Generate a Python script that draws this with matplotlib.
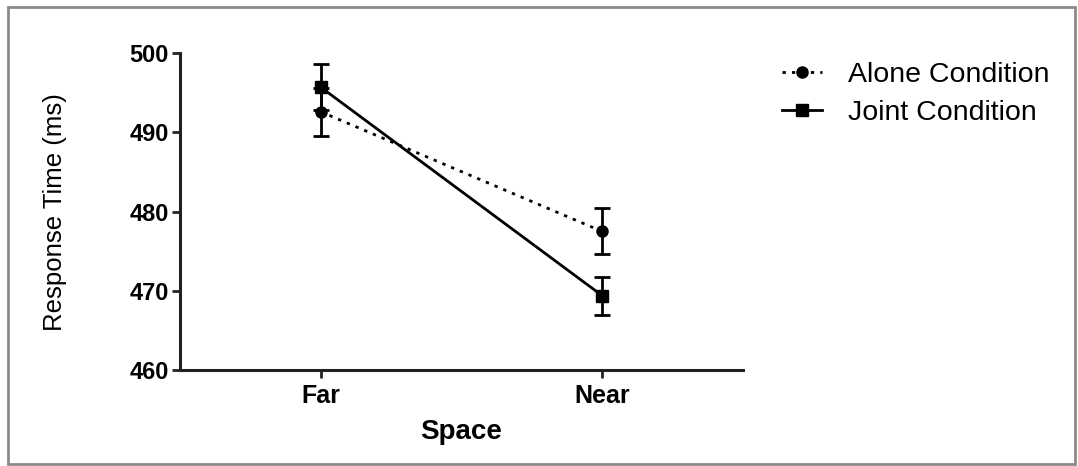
import matplotlib
matplotlib.use("Agg")
import matplotlib.pyplot as plt
import matplotlib.patches as mpatches
from matplotlib.lines import Line2D

# =============================================================================
# DATA
# =============================================================================
categories  = ["Far", "Near"]
alone_mean  = [492.6, 477.5]
alone_err   = [3.0, 2.9]
joint_mean  = [495.7, 469.4]
joint_err   = [2.9, 2.4]
y_ticks     = [460, 470, 480, 490, 500]
series      = ["Alone Condition", "Joint Condition"]

plt.rcParams["font.family"] = ["Liberation Sans", "DejaVu Sans"]

# =============================================================================
# PLOT
# =============================================================================
fig = plt.figure(figsize=(10.78, 4.66), dpi=100)
ax = fig.add_axes([0.167, 0.206, 0.522, 0.680])

dotted = (0, (1.2, 2.2))
x = list(range(len(categories)))
ax.errorbar(x, alone_mean, yerr=alone_err, fmt="o", linestyle=dotted,
            color="black", lw=2, ms=8, capsize=6, capthick=2, elinewidth=2)
ax.errorbar(x, joint_mean, yerr=joint_err, fmt="s", linestyle="-",
            color="black", lw=2, ms=9, capsize=6, capthick=2, elinewidth=2)

ax.set_xlim(-0.5, 1.5)
ax.set_ylim(460, 500)
ax.set_xticks(x)
ax.set_xticklabels(categories, fontsize=18, fontweight="bold")
ax.set_yticks(y_ticks)
ax.set_yticklabels([str(t) for t in y_ticks], fontsize=17, fontweight="bold")
ax.tick_params(axis="both", width=2, length=6, color="#222222")
ax.tick_params(axis="x", pad=4)
ax.tick_params(axis="y", pad=2)
for side in ["top", "right"]:
    ax.spines[side].set_visible(False)
for side in ["left", "bottom"]:
    ax.spines[side].set_linewidth(2.2)
    ax.spines[side].set_color("#222222")

ax.set_ylabel("Response Time (ms)", fontsize=18.5)
ax.yaxis.set_label_coords(-0.222, 0.5)
ax.yaxis.label.set_va("center")
ax.set_xlabel("Space", fontsize=20, fontweight="bold")
ax.xaxis.set_label_coords(0.5, -0.196)
ax.xaxis.label.set_va("center")

handles = [
    Line2D([], [], color="black", lw=2, linestyle=dotted, marker="o", ms=8),
    Line2D([], [], color="black", lw=2, linestyle="-", marker="s", ms=9),
]
fig.legend(handles, series, loc="upper left", bbox_to_anchor=(0.702, 0.921),
           frameon=False, fontsize=20.5, handlelength=1.4, handletextpad=0.9,
           labelspacing=0.4)

# gray frame around the figure
fig.patches.append(mpatches.Rectangle((0.007, 0.004), 0.99, 0.98, transform=fig.transFigure,
                                      fill=False, edgecolor="#8a8a8a", lw=2))

fig.savefig("out.png", dpi=100)
